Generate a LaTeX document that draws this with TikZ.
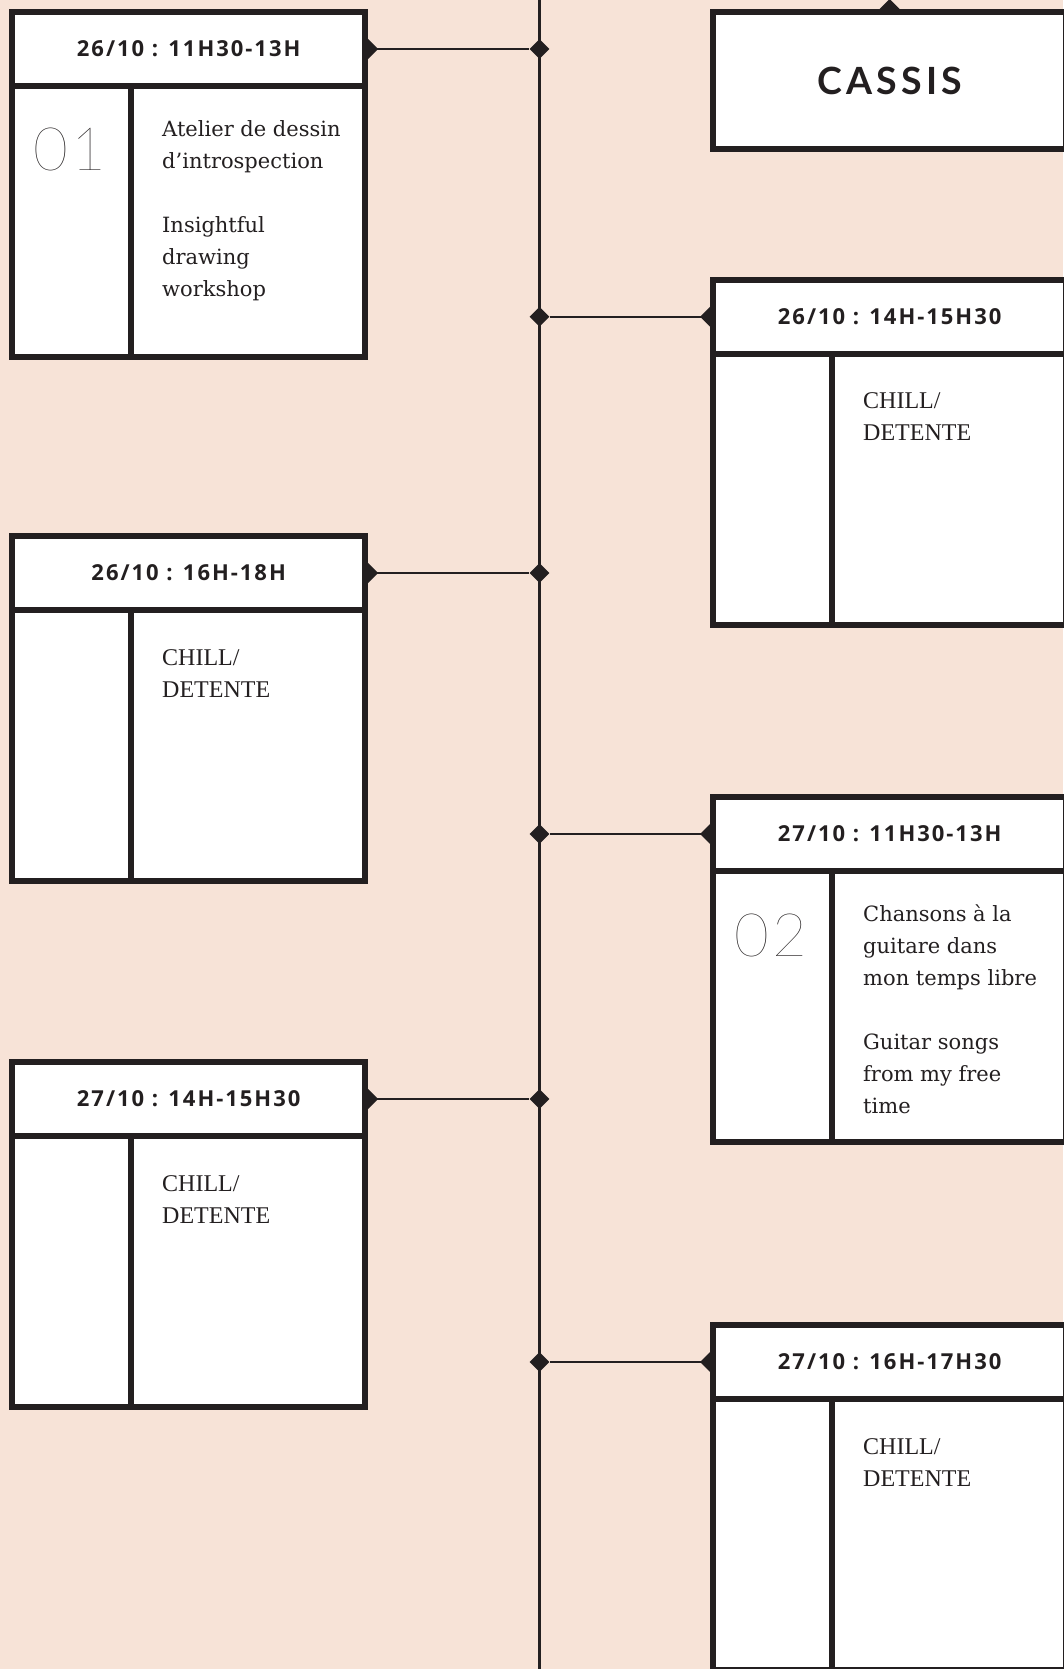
\documentclass[tikz,border=0pt]{standalone}
\usepackage{fontspec}
\setmainfont{Liberation Serif}
\newfontfamily\datefont[LetterSpace=9]{Open Sans}
\newfontfamily\titlefont[LetterSpace=11]{Lato}
\newfontfamily\numfont[LetterSpace=6]{Lato Thin}
\newfontfamily\bodyfont{DejaVu Serif}
\usetikzlibrary{positioning,shapes.geometric,backgrounds}
\definecolor{ink}{HTML}{231F20}
\definecolor{peach}{HTML}{F7E3D7}

\begin{document}
\begin{tikzpicture}[x=1pt, y=-1pt,
    slotbox/.style={draw=ink, line width=6pt, fill=white, inner sep=0pt, outer sep=0pt, anchor=north west},
    head/.style={slotbox, minimum width=353.3pt, minimum height=74pt, text=ink,
                 font=\datefont\bfseries\fontsize{22}{26}\selectfont},
    numcell/.style={slotbox, minimum width=118.5pt, minimum height=271pt},
    txtcell/.style={slotbox, minimum width=234.8pt, minimum height=271pt},
    num/.style={anchor=base west, inner sep=0pt, text=ink, font=\numfont\fontsize{60}{60}\selectfont},
    desc/.style={anchor=north west, inner sep=0pt, align=left, text=ink,
                 font=\bodyfont\fontsize{21}{32}\selectfont, execute at begin node=\strut},
    chill/.style={desc, font=\rmfamily\fontsize{24}{32}\selectfont},
    knot/.style={diamond, fill=ink, inner sep=0pt, minimum size=20pt},
    link/.style={draw=ink, line width=2.2pt}]
    \useasboundingbox (0,0) rectangle (1063,1669);

    % time slots
    \foreach \n/\x/\t/\when in {
        1/12/12/{26/10 : 11H30-13H},
        2/713/279.7/{26/10 : 14H-15H30},
        3/12/536/{26/10 : 16H-18H},
        4/713/797/{27/10 : 11H30-13H},
        5/12/1062/{27/10 : 14H-15H30},
        6/713/1325/{27/10 : 16H-17H30}} {
      \node[head] (h\n) at (\x, \t) {\when};
      \node[numcell] (n\n) at (h\n.south west) {};
      \node[txtcell] (c\n) at (n\n.north east) {};
    }

    \node[slotbox, minimum width=353.3pt, minimum height=137pt, text=ink,
          font=\titlefont\bfseries\fontsize{37.5}{40}\selectfont] (city) at (713, 12) {CASSIS};

    \node[num] (no1) at ([xshift=21pt, yshift=-85pt]n1.north west) {01};
    \node[num] (no4) at ([xshift=21pt, yshift=-85pt]n4.north west) {02};

    \node[desc] (d1) at ([xshift=31.5pt, yshift=-34pt]c1.north west)
      {Atelier de dessin\\d’introspection\\[32pt]Insightful\\drawing\\workshop};
    \node[desc] (d4) at ([xshift=31.5pt, yshift=-34pt]c4.north west)
      {Chansons à la\\guitare dans\\mon temps libre\\[32pt]Guitar songs\\from my free\\time};
    \foreach \n in {2,3,5,6}
      \node[chill] (d\n) at ([xshift=31.5pt, yshift=-39pt]c\n.north west) {CHILL/\\DETENTE};

    % timeline behind the slots
    \begin{scope}[on background layer]
      \fill[peach] (0,0) rectangle (1063,1669);
      \coordinate (top) at (539.5,0);
      \coordinate (bot) at (539.5,1669);
      \draw[link] (top) -- (bot);
      \node[knot, minimum size=26pt] (cap) at (city.north) {};
      \foreach \n in {1,...,6} {
        \node[knot] (k\n) at (top |- h\n.east) {};
        \draw[link] (h\n.east) -- (k\n);
      }
      \foreach \n in {1,3,5}
        \node[knot, minimum size=26pt] (e\n) at (h\n.east) {};
      \foreach \n in {2,4,6}
        \node[knot, minimum size=26pt] (e\n) at (h\n.west) {};
    \end{scope}
\end{tikzpicture}
\end{document}
